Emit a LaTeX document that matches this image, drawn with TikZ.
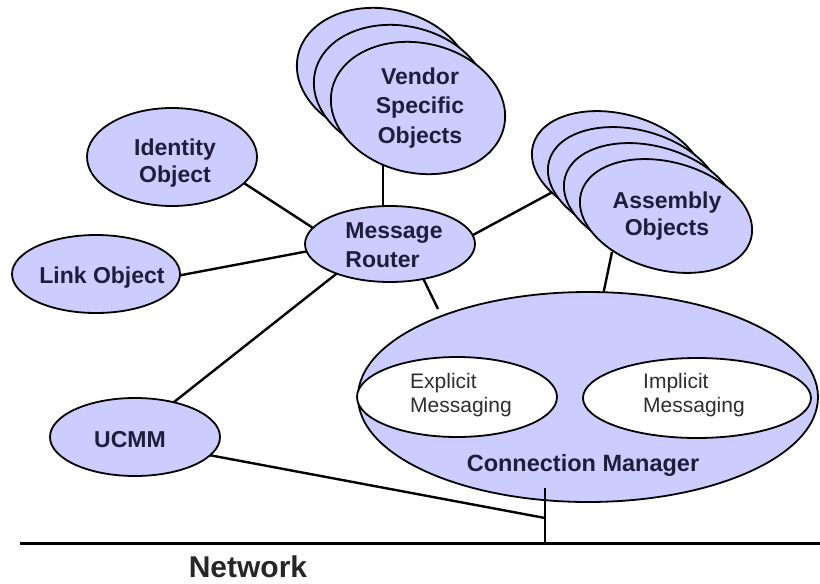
\documentclass[tikz,border=0pt]{standalone}
\usepackage{fontspec}
\setmainfont{Liberation Sans}
\usetikzlibrary{shapes.geometric}
\pgfdeclarelayer{bg}
\pgfsetlayers{bg,main}
\definecolor{objfill}{RGB}{204,204,255}
\definecolor{ink}{RGB}{30,30,60}
\definecolor{msgink}{RGB}{45,45,50}
\begin{document}
\begin{tikzpicture}[x=1pt,y=-1pt,
  objshape/.style={ellipse, draw=black, line width=1.8pt, fill=objfill, inner sep=0pt},
  msgshape/.style={ellipse, draw=black, line width=1.8pt, fill=white, inner sep=0pt},
  lbl/.style={font=\fontsize{23}{27}\selectfont\bfseries, text=ink, align=center, inner sep=0pt},
  lbll/.style={font=\fontsize{23}{29}\selectfont\bfseries, text=ink, align=left, inner sep=0pt},
  msgtxt/.style={font=\fontsize{21}{24}\selectfont, text=msgink, align=left, inner sep=0pt},
  conn/.style={line width=2.4pt, black}]
\useasboundingbox (0,0) rectangle (820,584);

% objects
\node[objshape, minimum width=170pt, minimum height=98pt] (identity) at (172,157) {};
\node[lbl] (identityT) at (175,163) {Identity\\Object};

\node[objshape, minimum width=168pt, minimum height=78pt] (link) at (96,274) {};
\node[lbl] (linkT) at (102,278) {Link Object};

\node[objshape, minimum width=170pt, minimum height=76pt] (router) at (390,244) {};
\node[lbll] (routerT) at (394,245) {Message\\Router};

\node[objshape, minimum width=170pt, minimum height=78pt] (ucmm) at (135,437) {};
\node[lbl] (ucmmT) at (130,440) {UCMM};

% vendor specific objects stack
\node[objshape, minimum width=176pt, minimum height=130pt, rotate=-12] (ven3) at (384,74) {};
\node[objshape, minimum width=176pt, minimum height=130pt, rotate=-12] (ven2) at (401,91) {};
\node[objshape, minimum width=176pt, minimum height=130pt, rotate=-12] (ven1) at (418,108) {};
\node[lbl, font=\fontsize{23}{29.5}\selectfont\bfseries] (venT) at (420,108) {Vendor\\Specific\\Objects};

% assembly objects stack
\node[objshape, minimum width=176pt, minimum height=108pt, rotate=-15] (asm1) at (618,168) {};
\node[objshape, minimum width=176pt, minimum height=108pt, rotate=-15] (asm2) at (634,184) {};
\node[objshape, minimum width=176pt, minimum height=108pt, rotate=-15] (asm3) at (650,200) {};
\node[objshape, minimum width=176pt, minimum height=108pt, rotate=-15] (asm4) at (666,216) {};
\node[lbl] (asmT) at (667,216) {Assembly\\Objects};

% connection manager
\node[objshape, minimum width=460pt, minimum height=210pt] (cm) at (588,397) {};
\node[msgshape, minimum width=200pt, minimum height=80pt] (explicit) at (457,397) {};
\node[msgtxt] (explicitT) at (461,395) {Explicit\\Messaging};
\node[msgshape, minimum width=228pt, minimum height=80pt] (implicit) at (697,398) {};
\node[msgtxt] (implicitT) at (694,395) {Implicit\\Messaging};
\node[lbl, font=\fontsize{23.5}{27}\selectfont\bfseries] (cmT) at (583,465) {Connection Manager};

% network
\coordinate (netL) at (20,543);
\coordinate (netR) at (820,543);
\coordinate (netj) at (545,543);
\coordinate (cmfoot) at (545,488);
\coordinate (jn) at (545,518);
\node[font=\fontsize{30}{34}\selectfont\bfseries, text=black!85, inner sep=0pt, anchor=base] (netT) at (248,577) {Network};

% connector helper points (inside the shapes they join)
\coordinate (iA) at (330,239);
\coordinate (iB) at (230,174);
\coordinate (lR) at (330,247);
\coordinate (lA) at (150,281);
\coordinate (uA) at (350,263);
\coordinate (uB) at (150,421);
\coordinate (ucA) at (150,444);
\coordinate (vjA) at (383,235);
\coordinate (vjB) at (383,150);
\coordinate (rA) at (460,242);
\coordinate (aA) at (560,188);
\coordinate (rB) at (420,272);
\coordinate (cmgap) at (438,309);
\coordinate (cmA) at (602,300);
\coordinate (asA) at (612,252);

\begin{pgfonlayer}{bg}
  \draw[conn] (iA) -- (iB);
  \draw[conn] (lR) -- (lA);
  \draw[conn] (uA) -- (uB);
  \draw[conn] (vjA) -- (vjB);
  \draw[conn] (rA) -- (aA);
  \draw[conn] (rB) -- (cmgap);
  \draw[conn] (cmA) -- (asA);
  \draw[conn] (ucA) -- (jn);
\end{pgfonlayer}

\draw[line width=2pt] (cmfoot) -- (netj);
\draw[line width=3pt] (netL) -- (netR);
\end{tikzpicture}
\end{document}
